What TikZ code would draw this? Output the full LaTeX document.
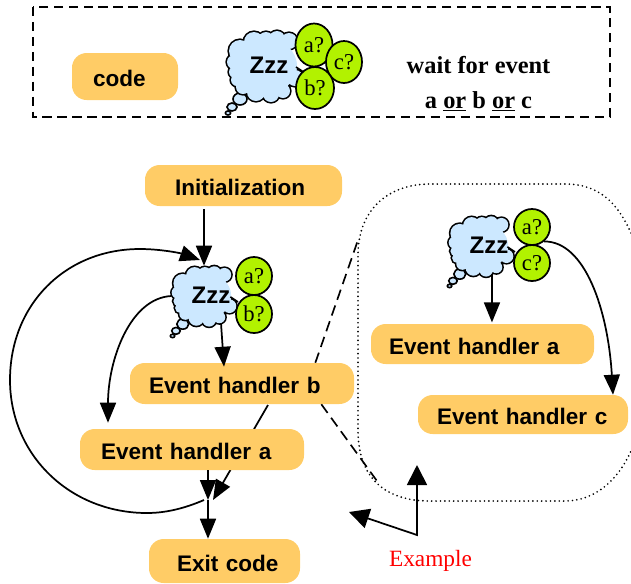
\documentclass[tikz,border=0pt]{standalone}
\usepackage{fontspec}
\setmainfont{Liberation Sans}
\newfontfamily\tms{Liberation Serif}
\usetikzlibrary{arrows.meta,shapes.geometric}
\definecolor{boxor}{HTML}{FFCC66}
\definecolor{cloudb}{HTML}{CCE8FF}
\definecolor{ballg}{HTML}{B2F200}
\tikzset{
  conn/.style={line width=1.3pt,-{Triangle[length=15pt,width=12pt]}},
  legendbox/.style={draw,line width=1.2pt,dash pattern=on 7pt off 4.2pt},
  dashlink/.style={line width=1.25pt,dash pattern=on 8pt off 4.5pt},
  dotbox/.style={line width=1.4pt,line cap=round,dash pattern=on 0pt off 3.3pt},
  cloudball/.style={ellipse,draw,line width=1.3pt,fill=ballg,inner sep=0pt,font=\tms\fontsize{17}{17}\selectfont},
  zzz/.style={font=\bfseries\fontsize{18}{18}\selectfont,inner sep=0pt},
}
\newcommand{\ebox}[7]{%
  \node[fill=boxor,rounded corners=11pt,inner ysep=0pt,inner xsep={#6*0.75pt},
    text width={(#4-#2-2*#6)*0.75pt},align=left,minimum height={(#5-#3)*0.75pt},
    font=\bfseries\fontsize{16.9}{16.9}\selectfont] (#1) at ({(#2+#4)/2},{(#3+#5)/2}) {\raisebox{-1.5pt}[\height][\depth]{\mbox{#7}}};}
\newcommand{\zcloud}[4]{%
  \begin{scope}[shift={(#2,#3)},scale=#4]
    \foreach \tx/\ty/\trx/\try in {-25/33/7/6,-33/41/5/4,-37/47/2.6/2}
      \draw[fill=cloudb,line width=1.2pt] (\tx,\ty) circle[x radius=\trx,y radius=\try];
    \def\bumps{(-31,-4) circle (7) (-25,-15) circle (11) (-11,-24) circle (10) (1,-26) circle (8) (12,-27) circle (8) (24,-25) circle (8) (-30,6) circle (6) (-28,14) circle (6) (-22,21) circle (7) (-9,26) circle (9) (6,28) circle (8) (18,25) circle (7) (30,12) circle (8)}
    \draw[line width=2.4pt] \bumps;
    \fill[cloudb] \bumps (0,0) circle[x radius=32,y radius=28];
    \draw[line width=1.2pt] (31,1) -- (40,7);
  \end{scope}
  \node[inner sep=0pt,minimum width={76*#4*0.75pt},minimum height={60/0.85*#4*0.75pt}] (#1) at (#2,#3) {};}
\begin{document}
\begin{tikzpicture}[x=0.75pt,y=-0.75pt]
\useasboundingbox (0,0) rectangle (631,583);
% legend
\draw[legendbox] (33,7) rectangle (610,117);
\ebox{lcode}{72}{53}{178}{100}{21}{code}
\zcloud{lcloud}{265}{66}{1}
\node[zzz] (lz) at (269,65) {Zzz};
\node[cloudball,minimum width=37*0.75pt,minimum height=43*0.75pt] (la) at (314,45) {a?};
\node[cloudball,minimum width=36*0.75pt,minimum height=42*0.75pt] (lc) at (344,62) {c?};
\node[cloudball,minimum width=38*0.75pt,minimum height=42*0.75pt] (lb) at (315,88) {b?};
\node[font=\tms\bfseries\fontsize{18.3}{26.2}\selectfont,align=center,inner sep=0pt] (ltext) at (478.5,84) {wait for event\\a \underline{or} b \underline{or} c};
% main flow: links that pass behind boxes
\coordinate (j) at (208,500);
\draw[conn] (268,405) -- ([xshift=3.75pt]j);
% dotted inset
\draw[dotbox] (631,233) .. controls (618,204) and (600,184) .. (565,184) -- (430,184)
  .. controls (388,184) and (358,210) .. (358,255) -- (358,430)
  .. controls (358,478) and (385,501) .. (430,501) -- (565,501)
  .. controls (595,501) and (618,480) .. (631,451);
\ebox{init}{145}{165}{342}{206}{30}{Initialization}
\ebox{hb}{130}{363}{354}{404}{19}{Event handler b}
\ebox{ha}{80}{429}{304}{470}{21}{Event handler a}
\ebox{ex}{149}{539}{300}{583}{28}{Exit code}
\ebox{ria}{371}{324}{594}{364}{18}{Event handler a}
\ebox{ric}{418}{395}{628}{434}{19}{Event handler c}
% main cloud
\zcloud{cm}{204}{296}{0.85}
\node[zzz] (mz) at (211,295) {Zzz};
\node[cloudball,minimum width=36*0.75pt,minimum height=38*0.75pt] (ma) at (254,276) {a?};
\node[cloudball,minimum width=36*0.75pt,minimum height=38*0.75pt] (mb) at (254,314) {b?};
% inset cloud
\zcloud{cr}{481}{246}{0.85}
\node[zzz] (rz) at (489,245) {Zzz};
\node[cloudball,minimum width=36*0.75pt,minimum height=36*0.75pt] (ra) at (532,227) {a?};
\node[cloudball,minimum width=36*0.75pt,minimum height=36*0.75pt] (rc) at (532,263) {c?};
% connectors
\coordinate (looptip) at (200,260);
\draw[conn] (cm.north |- init.south) ++(0,3) -- (cm.north);
\draw[conn] ([xshift=12.75pt,yshift=2.25pt]cm.south) -- ([xshift=-13.5pt,yshift=-3pt]hb.north);
\draw[conn] (cm.west) .. controls (130,298) and (108,360) .. ([xshift=-63pt,yshift=4.5pt]ha.north);
\draw[conn] ([xshift=12pt]ha.south) -- (j);
\draw[conn] (j) -- (j |- ex.north);
\draw[conn] ([xshift=-3pt]j) .. controls (190,506) and (170,513) .. (147,513)
  .. controls (70,513) and (10,455) .. (10,380)
  .. controls (10,305) and (65,249) .. (140,249)
  .. controls (160,249) and (180,253) .. (looptip);
\draw[conn] ([xshift=8.25pt,yshift=1.5pt]cr.south) -- ([xshift=7.1pt,yshift=1pt]ria.north);
\draw[conn] (ra.-50) .. controls (585,241) and (608,310) .. ([xshift=67.5pt]ric.north);
% zoom lines
\coordinate (dtop) at (358,240);
\coordinate (dbot) at (377,481);
\draw[dashlink] ([xshift=55pt]hb.north) -- (dtop);
\draw[dashlink] ([xshift=59.5pt]hb.south) -- (dbot);
% example
\node[font=\tms\fontsize{17.5}{17.5}\selectfont,text=red,inner sep=0pt] (exm) at (430.5,561) {Example};
\coordinate (ev) at (417,535);
\coordinate (ea) at (417,465);
\coordinate (eb) at (349,512);
\draw[line width=1.3pt,{Triangle[length=15pt,width=15pt]}-{Triangle[length=15pt,width=15pt]},line join=miter] (ea) -- (ev) -- (eb);
\end{tikzpicture}
\end{document}
